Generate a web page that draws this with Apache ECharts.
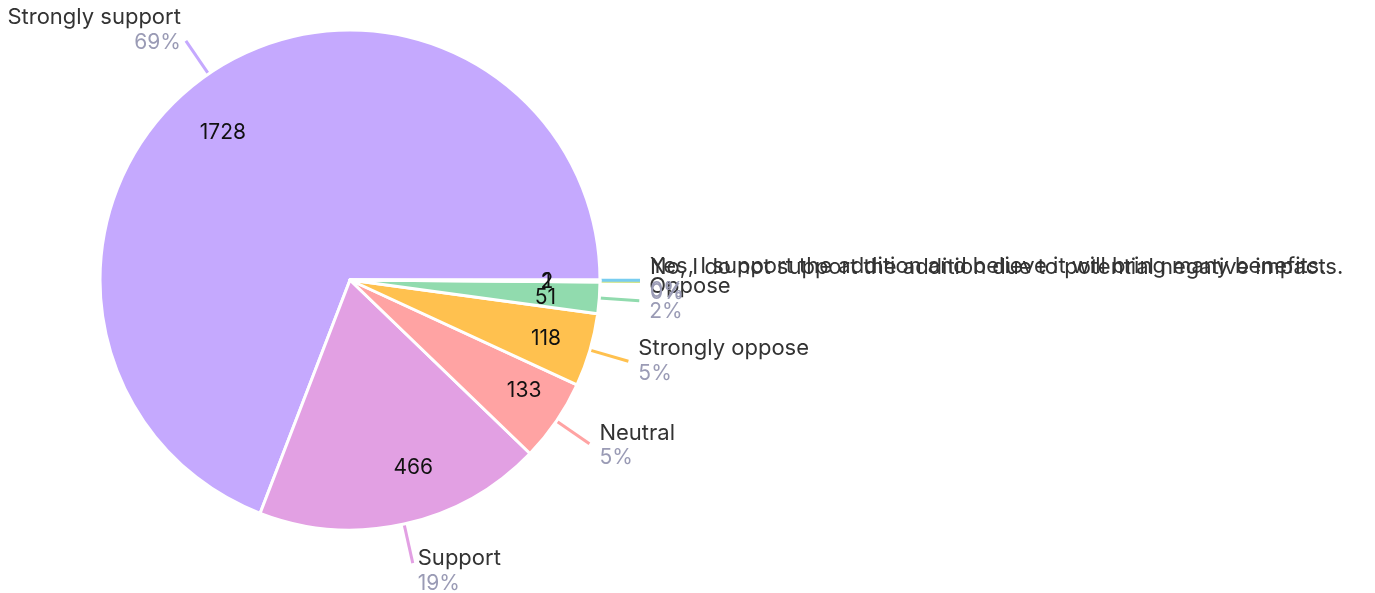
<!DOCTYPE html>
<html><head><meta charset="utf-8">
<script src="https://cdn.jsdelivr.net/npm/echarts@6/dist/echarts.min.js"></script>
<style>html,body{margin:0;padding:0;background:#fff}#c{width:1375px;height:593px}</style>
</head><body><div id="c"></div>
<script>
const categories = ["Strongly support","Support","Neutral","Strongly oppose","Oppose",
  "Yes, I support the addition and believe it will bring many benefits.",
  "No, I do not support the addition due to potential negative impacts."];
const values = [1728,466,133,118,51,2,1];
const colors = ["#c5a9fe","#e2a0e3","#ffa3a3","#ffc14f","#91dbae","#cfe38a","#78cdf0"];
// label nudges (style only)
const innerOffsets = [[-14,18],[20,-8],[9,-2],[4,3],[-4,3],[-3,1],[-3,1]];
const outerOffsets = [[5,-11],[-5,8],[0,2],[0,0],[0,-2],[0,-3],[0,0]];

const data = categories.map((n,i)=>({name:n,value:values[i],itemStyle:{color:colors[i]}}));
const chart = echarts.init(document.getElementById('c'));
const font = 'Inter, "Noto Sans", sans-serif';
chart.setOption({
  animation:false,
  series:[
    {
      type:'pie', center:[350,280], radius:[0,250], startAngle:0, clockwise:false,
      avoidLabelOverlap:false, minShowLabelAngle:0,
      itemStyle:{borderColor:'#fff',borderWidth:3},
      label:{show:true,position:'outside',fontFamily:font,distanceToLabelLine:10,
        formatter:p=>'{n|'+p.name+'}\n{p|'+Math.round(p.percent)+'%}',
        rich:{n:{fontSize:22,color:'#333',fontFamily:font,lineHeight:25},
              p:{fontSize:21,color:'#9a9bb5',fontFamily:font,lineHeight:25}}},
      labelLine:{show:true,length:40,length2:0,lineStyle:{width:3}},
      labelLayout:p=>({dx:outerOffsets[p.dataIndex][0],dy:outerOffsets[p.dataIndex][1],labelLinePoints:p.labelLinePoints}),
      data:data
    },
    {
      type:'pie', center:[350,280], radius:[0,190], startAngle:0, clockwise:false,
      silent:true, avoidLabelOverlap:false, minShowLabelAngle:0, z:5,
      itemStyle:{color:'transparent',borderWidth:0},
      label:{show:true,position:'outside',formatter:'{c}',color:'#111',fontSize:21,fontFamily:font,distanceToLabelLine:0},
      labelLine:{show:false,length:10,length2:0},
      labelLayout:p=>({align:'center',verticalAlign:'middle',dx:innerOffsets[p.dataIndex][0],dy:innerOffsets[p.dataIndex][1]}),
      data:categories.map((n,i)=>({name:n,value:values[i]}))
    }
  ]
});
</script></body></html>
